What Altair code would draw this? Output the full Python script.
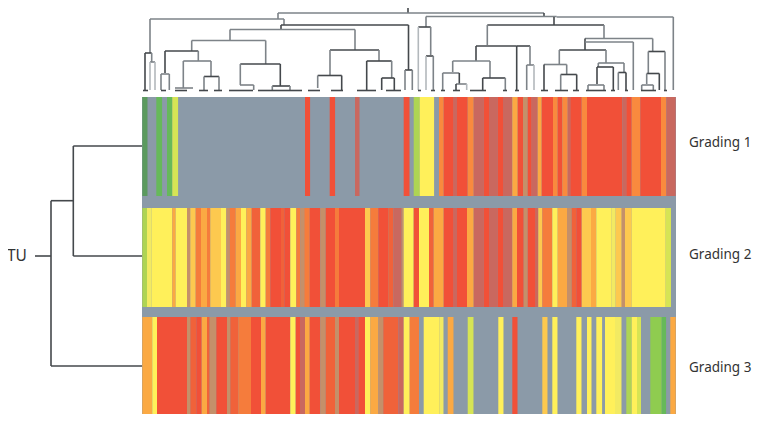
import altair as alt
import pandas as pd

# heat-map rows: (left edge, colour class); each band ends where the next begins
row1_top, row1_bottom, row1_end = 97, 196, 675.7
row1 = [(142.3,"G"),(147.7,"B"),(156.3,"g"),(162.3,"B"),(167,"g"),(172.3,"L"),(178.3,"B"),(305,"R"),(310.3,"B"),
 (329.7,"R"),(335.3,"B"),(355,"M"),(359.7,"B"),(403.7,"R"),(409.7,"B"),(413.7,"l"),(419.7,"Y"),(434.3,"B"),
 (439,"o"),(443.7,"R"),(453.7,"M"),(457,"R"),(467.7,"o"),(473.7,"M"),(483.7,"R"),(489,"M"),(497.7,"R"),(503,"M"),
 (512.3,"a"),(517.7,"R"),(523,"T"),(527.7,"R"),(531.7,"M"),(537.7,"a"),(541.7,"R"),(553,"o"),(557.7,"R"),
 (562.3,"o"),(567.7,"M"),(570.3,"R"),(581.7,"o"),(587,"R"),(622.3,"M"),(626.3,"R"),(631.7,"o"),(640.3,"R"),
 (661,"o"),(666.3,"M")]

row2_top, row2_bottom, row2_end = 208, 307, 671
row2 = [(142.3,"l"),(147,"P"),(151.7,"Y"),(172.3,"a"),(175.7,"Y"),(187,"T"),(190.3,"u"),(195.7,"O"),(201,"a"),
 (207,"O"),(210.3,"u"),(221,"Y"),(226.3,"T"),(229.7,"O"),(235.7,"a"),(241,"Y"),(246.3,"a"),(251.7,"r"),(260.3,"Y"),
 (265.7,"O"),(270.3,"R"),(281,"r"),(284.3,"R"),(290.3,"Y"),(296.3,"O"),(300.3,"T"),(304.3,"O"),(309.7,"R"),
 (320.3,"T"),(325.7,"R"),(335,"O"),(339,"R"),(365,"u"),(370.3,"O"),(378.3,"R"),(388.3,"r"),(393.3,"M"),
 (401.7,"T"),(403.7,"Y"),(413.7,"R"),(419,"Y"),(429,"r"),(433.7,"a"),(443.7,"R"),(453.7,"M"),(457,"R"),
 (467,"a"),(473.7,"M"),(483.7,"R"),(489,"M"),(497.7,"R"),(503,"M"),(512.3,"a"),(517,"R"),(523.7,"T"),
 (527.7,"R"),(535.7,"M"),(538.3,"u"),(542.3,"O"),(552.3,"Y"),(557.7,"a"),(567,"T"),(571.7,"r"),(576.3,"R"),
 (581.7,"u"),(591,"a"),(596.3,"Y"),(611.7,"P"),(615.7,"u"),(621.7,"T"),(625,"u"),(631.7,"Y"),(665.7,"L")]

row3_top, row3_bottom, row3_end = 317, 414, 675.7
row3 = [(142.3,"a"),(152.3,"Y"),(157,"R"),(187,"T"),(190.3,"r"),(196.3,"R"),(201.7,"a"),(207,"r"),(209.7,"T"),
 (216.3,"R"),(227,"T"),(230.3,"r"),(238.3,"O"),(251,"R"),(261,"a"),(265.7,"R"),(290.3,"Y"),(295.7,"R"),(300,"M"),
 (305,"a"),(309.7,"R"),(320.3,"T"),(325.7,"r"),(335,"T"),(339,"R"),(355,"M"),(358.3,"R"),(365,"Y"),(370.3,"a"),
 (378.3,"T"),(383.3,"r"),(398.3,"M"),(403.7,"Y"),(409.7,"O"),(419,"B"),(423.7,"Y"),(439.7,"P"),(443.7,"B"),
 (447.7,"a"),(453.7,"B"),(467.7,"L"),(473.7,"B"),(498.3,"Y"),(503.7,"B"),(512.3,"R"),(517.7,"B"),(542.3,"u"),
 (547.7,"B"),(552.3,"Y"),(557.7,"B"),(576.3,"Y"),(581.7,"B"),(587,"Y"),(591.7,"B"),(596.3,"Y"),(602.3,"B"),
 (605,"Y"),(615,"P"),(621.7,"B"),(626.3,"l"),(631.7,"Y"),(637,"L"),(641,"B"),(650.3,"n"),(661.7,"g"),(666.3,"B"),
 (670.3,"a")]

band_classes = ["B","G","g","n","l","L","P","Y","u","a","o","O","r","R","M","T"]
band_colours = ["#8b9aa8","#5b9a5e","#66b95a","#8fcc50","#aed454","#d6e454","#f2ea62","#fff05a",
                "#fdc94f","#fba943","#f98a3e","#f57c3c","#f0623a","#f15038","#c9685f","#c4906a"]

matrix_left, matrix_right, matrix_top, matrix_bottom = 142, 676, 97, 414

# dendrogram links: (x1, y1, x2, y2, shade)
top_tree = [
 (408,7,408,13,"k"),(278,13,544,13,"m"),(278,13,278,19,"m"),(150,19,284,19,"m"),(150,19,150,53,"m"),
 (284,19,284,25,"m"),(281,25,408.5,25,"k"),(408.5,25,408.5,70,"k"),(405,70,412.3,70,"k"),(405,70,405,90,"m"),(412.3,70,412.3,90,"m"),
 (281,25,281,29.5,"k"),(230,29.5,355,29.5,"m"),(230,29.5,230,40.5,"m"),(191.7,40.5,265.7,40.5,"m"),
 (191.7,40.5,191.7,51,"m"),(165,51,198.3,51,"k"),(165,51,165,73,"k"),(161,74,169.3,74,"m"),(161,74,161,90,"m"),(169.3,74,169.3,90,"m"),
 (198.3,51,198.3,61,"m"),(183.3,61,211,61,"m"),(183.3,61,183.3,88,"m"),(175,88,193,88,"m"),(211,61,211,76.5,"m"),
 (204,76.5,219,76.5,"k"),(204,76.5,204,90,"m"),(219,76.5,219,90,"m"),
 (265.7,40.5,265.7,64,"m"),(240.3,64,280.3,64,"k"),(240.3,64,240.3,85,"m"),(240,85,253.7,85,"m"),(253.7,85,253.7,90,"m"),
 (280.3,64,280.3,86,"k"),(272.3,86,290,86,"k"),(272.3,86,272.3,90,"m"),(290,86,290,90,"m"),
 (355,29.5,355,50,"m"),(330,50,379,50,"k"),(330,50,330,75.5,"m"),(317.7,75.5,341.7,75.5,"k"),(317.7,75.5,317.7,88,"m"),
 (341.7,75.5,341.7,90,"k"),(379,50,379,61,"m"),(366.7,61,391.7,61,"k"),(366.7,61,366.7,90,"k"),(391.7,61,391.7,78,"m"),
 (381.7,78,394.3,78,"k"),(381.7,78,381.7,90,"k"),(394.3,78,394.3,90,"k"),
 (145,53,151.7,53,"k"),(145,53,145,90,"k"),(151.7,53,151.7,62,"m"),(150,62,155,62,"m"),(150,62,150,90,"l"),(155,62,155,90,"l"),
 (544,13,544,16.5,"k"),(426,16.5,556.7,16.5,"m"),(556.7,17,673.3,17,"m"),(673.3,17,673.3,90,"m"),
 (426,16.5,426,27,"m"),(418.3,27,430.7,27,"k"),(418.3,27,418.3,90,"l"),(430.7,27,430.7,55,"m"),(426,56,433.3,56,"k"),(426,56,426,90,"l"),(433.3,56,433.3,90,"m"),
 (554,17,554,25,"k"),(487.3,25,604,25,"k"),(487.3,25,487.3,45,"m"),(476,46,516.7,46,"k"),(516.7,46,530,46,"k"),
 (476,46,476,61,"k"),(452.7,61,490,61,"m"),(452.7,61,452.7,72,"m"),(442.7,73,459.3,73,"m"),(442.7,73,442.7,90,"m"),
 (459.3,73,459.3,84,"k"),(456,84,466.7,84,"m"),(456,84,456,90,"k"),(466.7,84,466.7,90,"l"),
 (490,61,490,78,"m"),(482.7,78,505.3,78,"k"),(482.7,78,482.7,90,"k"),(505.3,78,505.3,90,"m"),
 (516.7,46,516.7,90,"k"),(530,46,530,65,"m"),(526.7,65,534,65,"m"),(526.7,65,526.7,90,"m"),(534,65,534,90,"l"),
 (604,25,604,38.5,"m"),(585,38.5,652.7,38.5,"m"),(585,38.5,585,50,"k"),(585,42,633.3,42,"m"),(633.3,42,633.3,90,"m"),
 (559.3,50,606,50,"k"),(559.3,50,559.3,64.5,"m"),(544,64.5,566.7,64.5,"m"),(544,64.5,544,90,"k"),(566.7,64.5,566.7,74,"m"),
 (560.7,74.5,576.7,74.5,"k"),(560.7,74.5,560.7,90,"m"),(576.7,74.5,576.7,90,"k"),
 (606,50,606,63,"m"),(598.3,63,624,63,"m"),(598.3,63,598.3,67,"m"),(597,67,613.3,67,"k"),(597,67,597,84,"k"),
 (588,85,604,85,"m"),(588,85,588,90,"m"),(604,85,604,90,"m"),(613.3,67,613.3,90,"k"),(624,63,624,72,"m"),
 (618.3,72.5,626,72.5,"k"),(618.3,72.5,618.3,90,"m"),(626,72.5,626,90,"k"),
 (652.7,38.5,652.7,51,"m"),(648.3,51.5,665,51.5,"k"),(648.3,51.5,648.3,73,"m"),(646.7,73.5,659.3,73.5,"k"),(646.7,73.5,646.7,84,"m"),
 (641.7,85,653.3,85,"m"),(641.7,85,641.7,90,"m"),(653.3,85,653.3,90,"m"),(659.3,73.5,659.3,90,"k"),(665,51.5,665,90,"m"),
]
leaf_dashes = [(143,148),(161,166),(175,187),(199,208),(214,222),(229,253),(258,272),(272,290),(290,302),
 (308,320),(331,343),(357,376),(386,401),(418,421),(431,435),(441,445),(453,460),(470,486),(503,507),(515,519),
 (541,548),(555,568),(573,579),(586,606),(611,615),(625,628),(641,656),(664,667)]
left_tree = [
 (35,256,51,256,"k"),(51,200.7,51,366,"k"),(51,366,142,366,"k"),(51,200.7,73.3,200.7,"k"),
 (73.3,146,73.3,256,"k"),(73.3,146,142,146,"k"),(73.3,256,142,256,"k"),
]
shades = ["k","m","l"]
shade_colours = ["#44484c","#7d8388","#b3b8bc"]

root_text, root_x, root_y = ["TU"], [7], [256]
label_text = ["Grading 1","Grading 2","Grading 3"]
label_x = [689,689,689]
label_y = [143,255,368]

def bands(row, top, bottom, end):
    out = []
    for i, (x0, code) in enumerate(row):
        x1 = row[i + 1][0] if i + 1 < len(row) else end
        out.append(dict(x=x0, x2=x1, y=top, y2=bottom, c=code))
    return out

cells = pd.DataFrame(bands(row1, row1_top, row1_bottom, row1_end)
                     + bands(row2, row2_top, row2_bottom, row2_end)
                     + bands(row3, row3_top, row3_bottom, row3_end))
links = pd.DataFrame(top_tree + left_tree + [(a, 90.5, b, 90.5, "k") for a, b in leaf_dashes],
                     columns=["x", "y", "x2", "y2", "s"])
labels = pd.DataFrame(dict(x=label_x, y=label_y, t=label_text))
root = pd.DataFrame(dict(x=root_x, y=root_y, t=root_text))
backdrop = pd.DataFrame([dict(x=matrix_left, x2=matrix_right, y=matrix_top, y2=matrix_bottom)])

X = alt.X("x:Q", axis=None, scale=alt.Scale(domain=[8, 761], nice=False, zero=False))
Y = alt.Y("y:Q", axis=None, scale=alt.Scale(domain=[417, 8], nice=False, zero=False))

bg = alt.Chart(backdrop).mark_rect(color=band_colours[0]).encode(X, Y, x2="x2:Q", y2="y2:Q")
rects = alt.Chart(cells).mark_rect(stroke=None).encode(
    X, Y, x2="x2:Q", y2="y2:Q",
    color=alt.Color("c:N", legend=None, scale=alt.Scale(domain=band_classes, range=band_colours)))
rules = alt.Chart(links).mark_rule(strokeWidth=1.6).encode(
    X, Y, x2="x2:Q", y2="y2:Q",
    color=alt.Color("s:N", legend=None, scale=alt.Scale(domain=shades, range=shade_colours)))
text = alt.Chart(labels).mark_text(align="left", baseline="middle", font="Noto Sans", fontSize=13.5, color="#333333").encode(
    X, Y, text="t:N")
root_label = alt.Chart(root).mark_text(align="left", baseline="middle", font="Noto Sans", fontSize=15.5, color="#333333").encode(
    X, Y, text="t:N")

chart = (alt.layer(bg, rects, rules, text, root_label)
         .resolve_scale(color="independent")
         .properties(width=753, height=409, padding=0, autosize=alt.AutoSizeParams(type="none"), background="white")
         .configure_view(stroke=None))
chart.save("out.html", embed_options={"renderer": "svg", "actions": False})
